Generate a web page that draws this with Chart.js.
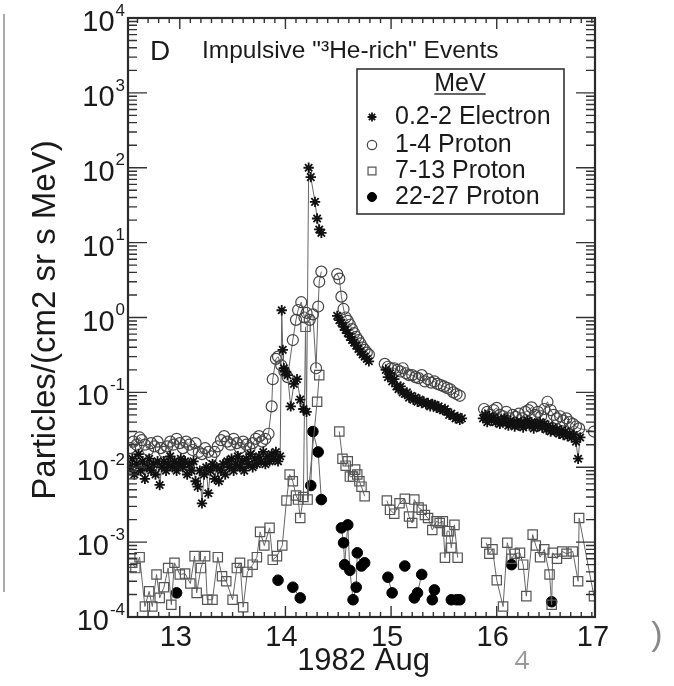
<!DOCTYPE html>
<html><head><meta charset="utf-8">
<script src="https://cdn.jsdelivr.net/npm/chart.js@4/dist/chart.umd.min.js"></script>
<style>html,body{margin:0;padding:0;background:#fff;}#wrap{width:674px;height:686px;}</style>
</head><body><div id="wrap"><canvas id="c" width="674" height="686"></canvas></div>
<script>
// ---- data (day of 1982 Aug, flux) ; null = data gap ----
const xTickDays = [13, 14, 15, 16, 17];
const yTickExps = [-4, -3, -2, -1, 0, 1, 2, 3, 4];
const seriesNames = ["0.2-2 Electron", "1-4 Proton", "7-13 Proton", "22-27 Proton"];

const elecDay = [12.53,12.55,12.57,12.59,12.61,12.63,12.65,12.67,12.69,12.71,12.73,12.75,12.77,12.79,12.81,12.83,12.85,12.87,12.89,12.91,12.93,12.95,12.97,12.99,13.01,13.03,13.05,13.07,13.09,13.11,13.13,13.15,13.17,13.19,13.21,13.23,13.25,13.27,13.29,13.31,13.33,13.35,13.37,13.39,13.41,13.43,13.45,13.47,13.49,13.51,13.53,13.55,13.57,13.59,13.61,13.63,13.65,13.67,13.69,13.71,13.73,13.75,13.77,13.79,13.81,13.83,13.85,13.87,13.89,13.91,13.93,13.95,13.965,13.975,13.985,13.995,14.02,14.05,14.08,14.11,14.14,14.17,14.20,14.22,14.24,14.28,14.30,14.32,14.34,
 14.42,
 14.49,14.51,14.53,14.55,14.57,14.59,14.61,14.63,14.65,14.67,14.69,14.71,14.73,14.75,14.77,14.79,
 14.87,
 14.95,14.97,14.99,15.01,15.03,15.05,15.07,15.09,15.11,15.13,15.15,15.17,15.19,15.21,15.23,15.25,15.27,15.29,15.31,15.33,15.35,15.37,15.39,15.41,15.43,15.45,15.47,15.49,15.51,15.53,15.55,15.57,15.59,15.61,15.63,15.65,15.67,
 15.78,
 15.87,15.89,15.91,15.93,15.95,15.97,15.99,16.01,16.03,16.05,16.07,16.09,16.11,16.13,16.15,16.17,16.19,16.21,16.23,16.25,16.27,16.29,16.31,16.33,16.35,16.37,16.39,16.41,16.43,16.45,16.47,16.49,16.51,16.53,16.55,16.57,16.59,16.61,16.63,16.65,16.67,16.69,16.71,16.73,16.75,16.77,16.79];
const elecVal = [.010,.013,.008,.011,.015,.009,.012,.007,.010,.013,.009,.011,.008,.012,.0058,.010,.012,.009,.011,.014,.010,.012,.009,.011,.013,.010,.012,.008,.011,.009,.012,.0065,.0055,.009,.0033,.008,.010,.0045,.009,.011,.007,.010,.0065,.009,.011,.008,.012,.010,.013,.009,.011,.014,.010,.012,.009,.013,.011,.015,.010,.013,.011,.014,.012,.016,.011,.014,.012,.015,.013,.016,.012,.014,1.25,.37,.21,.19,.17,.065,.13,.15,.08,.06,.055,100,75,35,21,15,13.5,
 null,
 1.05,.92,.85,.75,.68,.62,.55,.50,.46,.42,.38,.35,.32,.30,.28,.26,
 null,
 .20,.16,.18,.14,.15,.12,.11,.12,.10,.095,.10,.085,.09,.08,.085,.075,.08,.072,.075,.07,.072,.065,.07,.068,.062,.065,.06,.058,.06,.055,.05,.052,.048,.045,.047,.043,.045,
 null,
 .045,.05,.04,.048,.042,.046,.04,.044,.038,.042,.045,.04,.036,.042,.038,.035,.04,.036,.04,.034,.038,.042,.036,.04,.033,.038,.035,.04,.034,.038,.032,.036,.030,.034,.03,.032,.028,.031,.027,.03,.026,.028,.025,.027,.022,.013,.025];

const p14Day = [12.53,12.56,12.59,12.62,12.64,12.67,12.70,12.73,12.76,12.79,12.82,12.85,12.88,12.91,12.94,12.97,13.00,13.03,13.06,13.09,13.12,13.15,13.18,13.21,13.24,13.27,13.30,13.33,13.36,13.39,13.42,13.45,13.48,13.51,13.54,13.57,13.60,13.63,13.66,13.69,13.72,13.75,13.78,13.81,13.84,13.87,13.88,13.91,13.93,13.96,13.99,14.02,14.07,14.10,14.12,14.15,14.18,14.20,14.23,14.26,14.29,14.31,14.32,14.34,
 14.42,
 14.49,14.51,14.53,14.55,14.57,14.59,14.61,14.63,14.65,14.67,14.69,14.71,14.73,14.75,14.77,14.79,
 14.87,
 14.94,14.97,15.00,15.03,15.06,15.09,15.11,15.14,15.17,15.20,15.23,15.26,15.29,15.32,15.35,15.38,15.41,15.44,15.47,15.50,15.53,15.56,15.59,15.62,15.65,
 15.78,
 15.88,15.91,15.94,15.97,16.00,16.03,16.06,16.09,16.12,16.15,16.18,16.21,16.24,16.27,16.30,16.33,16.36,16.39,16.42,16.45,16.48,16.51,16.54,16.57,16.60,16.63,16.66,16.69,16.72,16.75,16.78,16.92];
const p14Val = [.018,.022,.02,.025,.023,.02,.017,.021,.019,.022,.018,.016,.019,.022,.02,.024,.021,.018,.022,.02,.017,.021,.016,.015,.018,.016,.014,.016,.019,.023,.026,.022,.02,.024,.021,.018,.022,.02,.018,.021,.024,.026,.022,.024,.028,.065,.15,.28,.30,.23,.19,.16,.5,.93,1.26,1.6,1.0,1.15,.93,1.1,.21,1.4,3.0,4.1,
 null,
 3.8,3.3,1.9,1.3,1.0,.9,.8,.7,.62,.55,.5,.45,.4,.37,.34,.32,
 null,
 .24,.22,.21,.21,.2,.19,.21,.18,.17,.17,.16,.155,.17,.14,.15,.135,.14,.13,.125,.12,.115,.11,.1,.095,.09,
 null,
 .06,.055,.05,.058,.062,.05,.048,.055,.045,.05,.047,.052,.045,.055,.058,.063,.05,.055,.048,.06,.075,.058,.05,.045,.048,.042,.045,.04,.038,.035,.033,.03];

const p713Day = [12.55,12.58,12.62,12.67,12.71,12.74,12.78,12.81,12.85,12.89,12.92,12.95,13.00,13.05,13.10,13.14,13.16,13.20,13.24,13.26,13.31,13.36,13.40,13.44,13.50,13.54,13.57,13.60,13.64,13.69,13.73,13.76,13.80,13.85,13.88,13.92,13.97,14.01,14.04,14.07,14.10,14.12,14.14,14.17,14.19,14.21,14.30,14.32,
 14.42,
 14.51,14.54,14.57,14.59,14.61,14.64,14.66,14.68,14.70,14.72,14.75,
 14.87,
 14.96,14.99,15.03,15.08,15.13,15.17,15.20,15.22,15.26,15.29,15.32,15.35,15.39,15.43,15.46,15.49,15.51,15.53,15.55,15.57,15.60,15.63,
 15.78,
 15.90,15.93,15.96,16.00,16.06,16.10,16.14,16.17,16.22,16.25,16.28,16.34,16.37,16.41,16.45,16.50,16.52,16.53,16.57,16.62,16.66,16.72,16.77,16.78,16.92];
const p713Val = [.00053,.00045,.00063,.000138,.00022,.000138,.00037,.00018,.00025,.00045,.000146,.00053,.00037,.00038,.00028,.00065,.00021,.00045,.00065,.00017,.00017,.00063,.00035,.0003,.00017,.00045,.00053,.000135,.0004,.0005,.00063,.00137,.0009,.00155,.00058,.00065,.0009,.0036,.008,.0065,.0042,.0037,.0021,.004,.75,.0037,.075,.17,
 null,
 .03,.013,.0105,.012,.0075,.0075,.0093,.008,.0065,.0055,.0041,
 null,
 .0036,.0027,.0024,.0033,.0038,.0022,.0018,.0037,.0029,.0027,.0023,.0021,.00145,.0019,.0018,.0019,.00062,.0014,.0014,.00084,.0017,.00062,
 null,
 .00098,.0007,.0008,.00031,.000138,.00098,.0006,.0007,.00072,.0005,.00019,.00126,.0009,.00063,.0008,.00037,.000146,.00072,.0006,.00075,.0007,.00075,.0003,.0021,.00019];

const p2227Day = [12.97,13.20,13.93,14.00,14.07,14.14,14.19,14.24,14.26,14.31,14.34,14.42,14.53,14.55,14.56,14.59,14.61,14.64,14.67,14.68,14.72,14.75,14.87,14.97,15.01,15.07,15.13,15.18,15.22,15.25,15.29,15.35,15.39,15.41,15.50,15.57,15.62,15.65,15.90,16.14,16.30,16.52];
const p2227Val = [.00021,null,.00031,null,.00025,.00018,null,.0057,.030,.016,.0037,null,.00155,.00098,.0005,.0017,.00042,.00017,.00025,.00072,.00048,.00053,null,.00034,.00021,null,.00048,null,.00018,.00021,.00037,null,.00017,.00023,null,.00017,.00017,.00017,null,.0005,null,.00016];

// ---- build ----
const FONT = '"Liberation Sans", Arial, Helvetica, sans-serif';
const pts = (d, v) => d.map((x, i) => ({x: x, y: v[i]}));
const styles = [
  {pointStyle:'star',   radius:5.2, borderWidth:1.8, border:'#111', fill:'#111'},
  {pointStyle:'circle', radius:5.5, borderWidth:1.2, border:'#444', fill:'rgba(255,255,255,0)'},
  {pointStyle:'rect',   radius:6.6, borderWidth:1.2, border:'#555', fill:'rgba(255,255,255,0)'},
  {pointStyle:'circle', radius:5.3, borderWidth:1,   border:'#000', fill:'#000'}
];
const allData = [pts(elecDay, elecVal), pts(p14Day, p14Val), pts(p713Day, p713Val), pts(p2227Day, p2227Val)];
const datasets = allData.map((d, i) => ({
  label: seriesNames[i], data: d, showLine: true, spanGaps: false,
  borderColor: '#666', borderWidth: 1, tension: 0,
  pointStyle: styles[i].pointStyle, pointRadius: styles[i].radius,
  pointBorderWidth: styles[i].borderWidth, pointBorderColor: styles[i].border,
  pointBackgroundColor: styles[i].fill, order: i
}));

const deco = {
  id: 'deco',
  afterDraw(chart) {
    const {ctx, chartArea: a, scales: {x, y}} = chart;
    ctx.save();
    // tick marks
    ctx.strokeStyle = '#333'; ctx.lineWidth = 1.4;
    ctx.beginPath();
    yTickExps.forEach(e => {
      const py = y.getPixelForValue(Math.pow(10, e));
      ctx.moveTo(a.left, py); ctx.lineTo(a.left + 19, py);
      ctx.moveTo(a.right, py); ctx.lineTo(a.right - 19, py);
      if (e < 4) for (let m = 2; m <= 9; m++) {
        const q = y.getPixelForValue(m * Math.pow(10, e));
        ctx.moveTo(a.left, q); ctx.lineTo(a.left + 9, q);
        ctx.moveTo(a.right, q); ctx.lineTo(a.right - 9, q);
      }
    });
    for (let d = 125; d <= 170; d++) {
      const v = d / 10;
      if (v <= x.min || v >= x.max) continue;
      const px = x.getPixelForValue(v);
      const len = d % 10 === 0 ? 11 : 5;
      ctx.moveTo(px, a.bottom); ctx.lineTo(px, a.bottom - len);
      ctx.moveTo(px, a.top); ctx.lineTo(px, a.top + len);
    }
    ctx.stroke();
    // frame
    ctx.lineWidth = 2.2; ctx.strokeStyle = '#2a2a2a';
    ctx.strokeRect(a.left, a.top, a.right - a.left, a.bottom - a.top);

    ctx.fillStyle = '#1a1a1a';
    // y tick labels 10^n
    yTickExps.forEach(e => {
      const py = y.getPixelForValue(Math.pow(10, e));
      const sup = String(e);
      ctx.font = '17px ' + FONT;
      const sw = ctx.measureText(sup).width;
      const right = a.left - 3;
      ctx.textAlign = 'left'; ctx.textBaseline = 'middle';
      ctx.fillText(sup, right - sw, py - 7);
      ctx.font = '29px ' + FONT;
      ctx.textAlign = 'right';
      ctx.fillText('10', right - sw - 1, py + 5);
    });
    // x tick labels
    ctx.font = '29px ' + FONT; ctx.textAlign = 'center'; ctx.textBaseline = 'middle';
    xTickDays.forEach(d => {
      const px = x.getPixelForValue(d);
      ctx.fillText(String(d), Math.min(px - 4, a.right - 2), a.bottom + 21);
    });
    // axis titles
    ctx.font = '31px ' + FONT; ctx.textBaseline = 'alphabetic';
    ctx.fillText('1982 Aug', (a.left + a.right) / 2 + 2, 670);
    ctx.save();
    ctx.translate(55, 320); ctx.rotate(-Math.PI / 2);
    ctx.textAlign = 'center';
    ctx.font = '33px ' + FONT;
    ctx.fillText('Particles/(cm2 sr s MeV)', 0, 0);
    ctx.restore();
    // panel label and title
    ctx.textAlign = 'left';
    ctx.font = '28px ' + FONT;
    ctx.fillText('D', 150, 60);
    ctx.font = '24.5px ' + FONT;
    ctx.fillText('Impulsive "\u00b3He-rich" Events', 202, 58);
    // legend box
    ctx.lineWidth = 1.6; ctx.strokeStyle = '#333';
    ctx.strokeRect(357, 69, 207, 145);
    ctx.font = '25px ' + FONT; ctx.textAlign = 'center';
    ctx.fillText('MeV', 460, 91);
    const mw = ctx.measureText('MeV').width;
    ctx.beginPath(); ctx.lineWidth = 1.3;
    ctx.moveTo(460 - mw / 2, 94); ctx.lineTo(460 + mw / 2, 94); ctx.stroke();
    const rowY = [117, 145, 171, 197];
    ctx.textAlign = 'left';
    seriesNames.forEach((n, i) => {
      const s = styles[i];
      ctx.fillStyle = s.fill === '#111' || s.fill === '#000' ? s.fill : '#fff';
      ctx.strokeStyle = s.border;
      ctx.lineWidth = s.borderWidth;
      Chart.helpers.drawPoint(ctx, {pointStyle: s.pointStyle, radius: s.radius * 0.85, borderWidth: s.borderWidth, rotation: 0}, 372, rowY[i]);
      ctx.fillStyle = '#1a1a1a';
      ctx.fillText(n, 395, rowY[i] + 7);
    });
    // slide remnants
    ctx.strokeStyle = '#aaa'; ctx.lineWidth = 2;
    ctx.beginPath(); ctx.moveTo(4, 14); ctx.lineTo(4, 592); ctx.stroke();
    ctx.fillStyle = '#999'; ctx.font = '26px "Open Sans", ' + FONT; ctx.textAlign = 'center';
    ctx.fillText('4', 522, 669);
    ctx.fillStyle = '#888'; ctx.font = '34px ' + FONT;
    ctx.fillText(')', 657, 645);
    ctx.restore();
  }
};

new Chart(document.getElementById('c'), {
  type: 'scatter',
  data: {datasets},
  options: {
    responsive: false, animation: false, devicePixelRatio: 1,
    layout: {padding: {top: 18, right: 79, left: 0, bottom: 0}},
    plugins: {legend: {display: false}, tooltip: {enabled: false}, title: {display: false}},
    scales: {
      x: {type: 'linear', min: 12.51, max: 16.93,
          ticks: {display: false}, grid: {display: false}, border: {display: false},
          afterFit(s) { s.height = 69; }},
      y: {type: 'logarithmic', min: 1e-4, max: 1e4,
          ticks: {display: false}, grid: {display: false}, border: {display: false},
          afterFit(s) { s.width = 128; }}
    }
  },
  plugins: [deco]
});
</script></body></html>
